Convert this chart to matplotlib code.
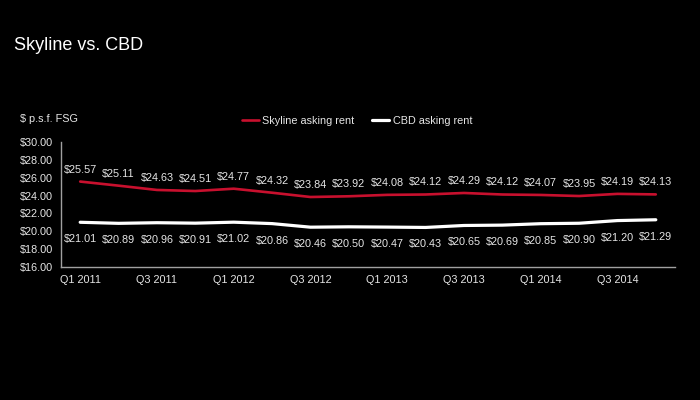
import numpy as np
import matplotlib.pyplot as plt

plt.rcParams['font.family'] = ['Liberation Sans', 'DejaVu Sans']

quarters = ['Q1 2011', 'Q2 2011', 'Q3 2011', 'Q4 2011',
            'Q1 2012', 'Q2 2012', 'Q3 2012', 'Q4 2012',
            'Q1 2013', 'Q2 2013', 'Q3 2013', 'Q4 2013',
            'Q1 2014', 'Q2 2014', 'Q3 2014', 'Q4 2014']
skyline = [25.57, 25.11, 24.63, 24.51, 24.77, 24.32, 23.84, 23.92,
           24.08, 24.12, 24.29, 24.12, 24.07, 23.95, 24.19, 24.13]
cbd = [21.01, 20.89, 20.96, 20.91, 21.02, 20.86, 20.46, 20.50,
       20.47, 20.43, 20.65, 20.69, 20.85, 20.90, 21.20, 21.29]
yticks = [16, 18, 20, 22, 24, 26, 28, 30]

red = '#c8102e'
txt = '#e6e6e6'

fig = plt.figure(figsize=(7, 4), dpi=100, facecolor='black')
ax = fig.add_axes([61 / 700, 1 - 267 / 400, 614 / 700, 125 / 400])
ax.set_facecolor('black')

x = np.arange(len(quarters))
ax.plot(x, skyline, color=red, lw=1.9, solid_joinstyle='round',
        solid_capstyle='round', label='Skyline asking rent')
ax.plot(x, cbd, color='white', lw=2.3, solid_joinstyle='round',
        solid_capstyle='round', label='CBD asking rent')

for xi, v in zip(x, skyline):
    ax.annotate(f'${v:.2f}', (xi, v), xytext=(0, 12), textcoords='offset pixels',
                ha='center', va='center', color=txt, fontsize=7.8)
for xi, v in zip(x, cbd):
    ax.annotate(f'${v:.2f}', (xi, v), xytext=(0, -17), textcoords='offset pixels',
                ha='center', va='center', color=txt, fontsize=7.8)

ax.set_xlim(-0.5, len(quarters) - 0.5)
ax.set_ylim(16, 30)
ax.set_yticks(yticks)
ax.set_yticklabels([f'${t:.2f}' for t in yticks])
ax.set_xticks(x[::2])
ax.set_xticklabels(quarters[::2])
ax.tick_params(colors=txt, labelsize=7.8, length=0, pad=6)
for s in ['top', 'right']:
    ax.spines[s].set_visible(False)
for s in ['left', 'bottom']:
    ax.spines[s].set_color('#a0a0a0')
    ax.spines[s].set_linewidth(1)

fig.text(14 / 700, 1 - 45 / 400, 'Skyline vs. CBD', color='white', fontsize=13,
         va='center', ha='left')
fig.text(20 / 700, 1 - 119 / 400, '$ p.s.f. FSG', color=txt, fontsize=7.8,
         va='center', ha='left')

leg = fig.legend(loc='center', bbox_to_anchor=(357 / 700, 1 - 121 / 400), ncol=2,
                 frameon=False, fontsize=7.8, handlelength=1.6, handletextpad=0.3,
                 columnspacing=1.6)
for t in leg.get_texts():
    t.set_color(txt)

fig.savefig('out.png', dpi=100, facecolor='black')
